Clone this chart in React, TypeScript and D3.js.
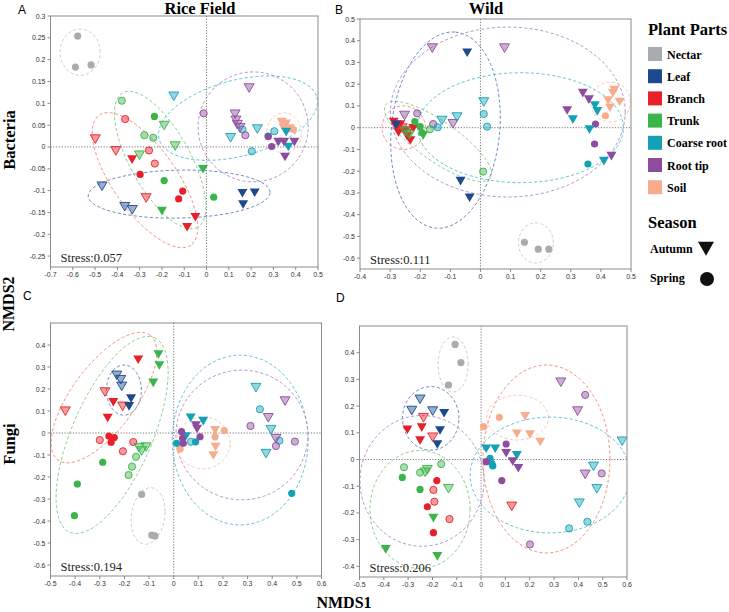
import React from "react";
import * as d3 from "d3";

// plant compartments, in legend order
const parts = ["Nectar", "Leaf", "Branch", "Trunk", "Coarse root", "Root tip", "Soil"];
const partColors = ["#a8acaf", "#1c4a8d", "#e8202a", "#3bb44a", "#14a1b6", "#8d4c9e", "#f7ac8e"];
const ringColors = ["#c4c6c8", "#5a7fc0", "#f08a78", "#7fcc85", "#55c0d3", "#b28ccb", "#f8c2ab"];
const seasons = ["Autumn", "Spring"];

// [part, season, NMDS1, NMDS2, pale]
type Pt = [number, string, number, number, number];
// [part, cx, cy, ux, uy, vx, vy] : centre and two conjugate semi-axes, in NMDS units
type Ring = [number, number, number, number, number, number, number];

const riceBacteria: Pt[] = [
  [0, "S", -0.578, 0.254, 0], [0, "S", -0.588, 0.183, 0], [0, "S", -0.518, 0.188, 0],
  [3, "S", -0.38, 0.106, 1], [3, "S", -0.234, 0.07, 0], [3, "A", -0.19, 0.05, 1],
  [3, "S", -0.279, 0.027, 1], [3, "S", -0.239, 0.021, 1], [3, "A", -0.141, 0.003, 1],
  [3, "A", -0.301, -0.018, 1], [3, "S", -0.19, -0.077, 0], [3, "A", -0.016, -0.05, 0],
  [3, "S", 0.032, -0.115, 0], [3, "A", -0.2, -0.146, 0],
  [2, "S", -0.365, 0.064, 1], [2, "A", -0.499, 0.019, 1], [2, "A", -0.407, -0.008, 1],
  [2, "S", -0.258, -0.008, 1], [2, "A", -0.334, -0.028, 0], [2, "S", -0.232, -0.038, 1],
  [2, "S", -0.298, -0.063, 0], [2, "A", -0.271, -0.116, 1], [2, "S", -0.107, -0.101, 0],
  [2, "S", -0.125, -0.119, 0], [2, "A", -0.05, -0.16, 0], [2, "A", -0.087, -0.183, 0],
  [1, "A", -0.469, -0.089, 1], [1, "A", -0.367, -0.136, 1], [1, "A", -0.333, -0.143, 1],
  [1, "A", 0.161, -0.105, 0], [1, "A", 0.164, -0.131, 0], [1, "A", 0.216, -0.104, 0],
  [4, "A", -0.147, 0.117, 1], [4, "S", 0.161, 0.04, 1], [4, "A", 0.108, 0.022, 1],
  [4, "A", 0.228, 0.042, 1], [4, "S", 0.203, -0.01, 1], [4, "S", 0.304, 0.036, 1],
  [5, "S", -0.013, 0.077, 1], [5, "A", 0.191, 0.136, 1], [5, "A", 0.128, 0.076, 1],
  [5, "A", 0.132, 0.062, 1], [5, "A", 0.138, 0.052, 1], [5, "A", 0.15, 0.045, 1],
  [5, "S", 0.174, 0.027, 1],
  [6, "A", 0.337, 0.058, 0], [6, "A", 0.357, 0.054, 0], [6, "A", 0.345, 0.045, 0],
  [6, "A", 0.374, 0.043, 0], [6, "S", 0.39, 0.04, 0],
  [4, "S", 0.276, 0.025, 0], [4, "A", 0.357, 0.035, 0], [4, "A", 0.367, 0.001, 0],
  [5, "S", 0.277, 0.024, 0], [5, "S", 0.292, 0.001, 0], [5, "A", 0.322, 0.012, 0],
  [5, "A", 0.348, 0.012, 0], [5, "A", 0.394, 0.012, 0], [5, "A", 0.352, -0.022, 0],
];

const wildBacteria: Pt[] = [
  [5, "A", -0.16, 0.368, 1], [5, "A", 0.08, 0.368, 1], [5, "A", -0.252, 0.058, 1],
  [5, "S", -0.21, 0.066, 1], [5, "A", -0.091, 0.02, 1], [5, "S", -0.157, 0.017, 1],
  [4, "A", -0.128, 0.035, 1], [4, "A", -0.078, 0.051, 1], [4, "S", -0.142, 0.002, 1],
  [4, "A", 0.011, 0.12, 1], [4, "S", 0.011, 0.063, 1], [4, "S", 0.022, 0.005, 1],
  [3, "S", -0.168, -0.007, 1], [3, "S", 0.009, -0.202, 1],
  [2, "A", -0.288, 0.028, 0], [2, "A", -0.266, 0.017, 0], [2, "A", -0.249, -0.011, 0],
  [2, "A", -0.243, -0.038, 0], [2, "A", -0.233, -0.057, 0], [2, "A", -0.272, -0.02, 0],
  [2, "A", -0.223, -0.001, 0], [2, "A", -0.279, 0.003, 0], [2, "A", -0.26, 0.0, 1],
  [2, "A", -0.245, -0.025, 1], [1, "A", -0.28, 0.015, 0],
  [3, "A", -0.25, -0.015, 1], [3, "A", -0.236, -0.03, 1],
  [3, "S", -0.218, 0.028, 0], [3, "S", -0.2, 0.005, 0], [3, "S", -0.194, -0.023, 0],
  [3, "A", -0.19, -0.034, 0],
  [1, "A", -0.044, 0.347, 0], [1, "A", -0.066, -0.244, 0], [1, "A", -0.036, -0.32, 0],
  [5, "A", 0.34, 0.161, 0], [5, "A", 0.36, 0.131, 0], [5, "A", 0.288, 0.081, 0],
  [5, "A", 0.435, -0.129, 0], [5, "S", 0.382, 0.017, 0], [5, "S", 0.379, -0.075, 0],
  [4, "A", 0.307, 0.039, 0], [4, "A", 0.38, 0.104, 0], [4, "A", 0.388, 0.077, 0],
  [4, "A", 0.362, -0.007, 0], [4, "A", 0.41, -0.152, 0], [4, "S", 0.357, -0.167, 0],
  [6, "A", 0.44, 0.161, 0], [6, "A", 0.424, 0.127, 0], [6, "A", 0.462, 0.12, 0],
  [6, "A", 0.43, 0.094, 0], [6, "A", 0.445, 0.175, 0], [6, "S", 0.415, 0.055, 0],
  [0, "S", 0.146, -0.527, 0], [0, "S", 0.192, -0.559, 0], [0, "S", 0.227, -0.559, 0],
];

const riceFungi: Pt[] = [
  [2, "A", -0.44, 0.101, 1], [2, "A", -0.279, 0.188, 1], [2, "A", -0.207, 0.123, 1],
  [2, "S", -0.3, -0.032, 1], [2, "S", -0.164, -0.041, 1], [2, "S", -0.206, -0.083, 1],
  [2, "A", -0.144, 0.335, 0], [2, "A", -0.245, 0.142, 0], [2, "A", -0.268, 0.07, 0],
  [2, "S", -0.263, -0.014, 0], [2, "S", -0.241, -0.021, 0], [2, "S", -0.254, -0.042, 0],
  [3, "A", -0.062, 0.359, 0], [3, "A", -0.058, 0.309, 0], [3, "A", -0.083, 0.23, 0],
  [3, "S", -0.288, -0.133, 0], [3, "A", -0.141, -0.065, 1], [3, "A", -0.112, -0.062, 1],
  [3, "A", -0.13, -0.08, 1], [3, "S", -0.153, -0.108, 1], [3, "S", -0.169, -0.153, 1],
  [3, "S", -0.183, -0.191, 1], [3, "S", -0.391, -0.232, 0], [3, "S", -0.403, -0.376, 0],
  [1, "A", -0.231, 0.264, 1], [1, "A", -0.215, 0.244, 1], [1, "A", -0.211, 0.214, 1],
  [1, "A", -0.173, 0.158, 0], [1, "A", -0.181, 0.123, 0],
  [0, "S", -0.13, -0.279, 0], [0, "S", -0.089, -0.464, 0], [0, "S", -0.076, -0.468, 0],
  [4, "A", 0.334, 0.208, 1], [4, "S", 0.35, 0.108, 1], [4, "A", 0.395, 0.017, 1],
  [4, "S", 0.429, -0.035, 1], [4, "A", 0.375, -0.092, 1], [4, "S", 0.07, -0.04, 1],
  [5, "S", 0.312, 0.032, 1], [5, "A", 0.452, 0.147, 1], [5, "A", 0.384, 0.071, 1],
  [5, "A", 0.415, -0.024, 1], [5, "S", 0.415, -0.059, 1], [5, "S", 0.492, -0.039, 1],
  [6, "A", 0.168, 0.014, 0], [6, "A", 0.17, -0.062, 0], [6, "A", 0.161, -0.1, 0],
  [6, "S", 0.168, -0.017, 0], [6, "S", 0.205, 0.011, 0], [6, "S", 0.026, -0.073, 0],
  [4, "A", 0.069, 0.071, 0], [4, "A", 0.12, 0.056, 0], [4, "A", 0.049, -0.014, 0],
  [4, "S", 0.012, -0.047, 0], [4, "S", 0.089, -0.04, 0], [4, "S", 0.479, -0.274, 0],
  [5, "A", 0.09, 0.036, 0], [5, "A", 0.095, 0.02, 0], [5, "S", 0.032, 0.006, 0],
  [5, "S", 0.036, -0.024, 0], [5, "S", 0.039, -0.047, 0], [5, "S", 0.107, -0.017, 0],
];

const wildFungi: Pt[] = [
  [0, "S", -0.107, 0.431, 0], [0, "S", -0.083, 0.363, 0], [0, "S", -0.134, 0.279, 0],
  [1, "A", -0.251, 0.227, 1], [1, "A", -0.285, 0.185, 1], [1, "A", -0.199, 0.183, 1],
  [1, "A", -0.152, 0.175, 0], [1, "A", -0.169, 0.11, 0], [1, "A", -0.18, 0.058, 0],
  [2, "A", -0.237, 0.158, 1], [2, "A", -0.199, 0.085, 1], [2, "A", -0.303, 0.113, 0],
  [2, "A", -0.244, 0.121, 0], [2, "A", -0.251, 0.073, 0],
  [3, "S", -0.317, -0.029, 1], [3, "S", -0.164, -0.017, 1], [3, "S", -0.251, -0.049, 1],
  [3, "A", -0.221, -0.037, 1], [3, "A", -0.23, -0.046, 1], [3, "A", -0.134, -0.108, 1],
  [3, "S", -0.324, -0.067, 0], [3, "S", -0.251, -0.112, 0], [3, "A", -0.196, -0.218, 0],
  [3, "A", -0.392, -0.335, 0], [3, "A", -0.18, -0.361, 0],
  [2, "S", -0.196, -0.114, 1], [2, "S", -0.192, -0.158, 1], [2, "S", -0.13, -0.223, 1],
  [2, "S", -0.182, -0.079, 0], [2, "S", -0.221, -0.177, 0], [2, "S", -0.196, -0.274, 0],
  [2, "A", 0.126, -0.174, 1],
  [5, "A", 0.328, 0.291, 1], [5, "S", 0.428, 0.242, 1], [5, "A", 0.397, 0.183, 1],
  [5, "A", 0.428, -0.054, 1], [5, "S", 0.496, -0.052, 1], [5, "S", 0.201, -0.318, 1],
  [4, "A", 0.462, -0.024, 1], [4, "A", 0.476, -0.108, 1], [4, "A", 0.404, -0.162, 1],
  [4, "S", 0.437, -0.233, 1], [4, "S", 0.362, -0.258, 1], [4, "A", 0.58, 0.07, 1],
  [6, "S", 0.075, 0.158, 0], [6, "S", 0.01, 0.123, 0], [6, "A", 0.181, 0.163, 0],
  [6, "A", 0.147, 0.098, 0], [6, "A", 0.201, 0.095, 0], [6, "A", 0.243, 0.067, 0],
  [4, "A", 0.021, 0.042, 0], [4, "A", 0.058, 0.042, 0], [4, "A", 0.147, 0.017, 0],
  [4, "S", 0.037, 0.004, 0], [4, "S", 0.044, -0.014, 0], [4, "S", 0.048, -0.024, 0],
  [5, "S", 0.103, 0.058, 0], [5, "S", 0.021, -0.008, 0], [5, "S", 0.085, -0.079, 0],
  [5, "A", 0.103, 0.025, 0], [5, "A", 0.13, -0.006, 0], [5, "A", 0.153, -0.031, 0],
];

const riceBacteriaRings: Ring[] = [
  [0, -0.567, 0.217, 0.09, 0, 0, 0.053],
  [2, -0.276, -0.076, 0.206, -0.149, -0.117, -0.042],
  [3, -0.208, -0.03, 0.168, -0.154, -0.118, -0.033],
  [1, -0.123, -0.108, 0.408, 0.004, 0, 0.055],
  [4, 0.141, 0.066, 0.354, 0.048, 0.0435, -0.084],
  [5, 0.209, 0.046, 0.247, 0, 0, 0.126],
  [6, 0.348, 0.032, 0.078, 0, 0, 0.046],
];

const wildBacteriaRings: Ring[] = [
  [2, -0.255, 0, 0.072, 0, 0, 0.1],
  [3, -0.141, -0.063, 0.174, -0.168, -0.038, -0.075],
  [1, -0.116, -0.011, 0.033, 0.451, 0.179, -0.023],
  [5, 0.091, 0.072, 0.39, 0, 0, 0.391],
  [4, 0.133, 0, 0.342, 0, 0, 0.253],
  [6, 0.432, 0.118, 0.066, 0, 0, 0.092],
  [0, 0.184, -0.53, 0.058, 0, 0, 0.092],
];

const riceFungiRings: Ring[] = [
  [2, -0.283, 0.161, 0.187, 0.284, 0.105, -0.086],
  [3, -0.25, -0.009, 0.172, 0.442, 0.149, -0.073],
  [1, -0.202, 0.195, 0.071, 0, 0, 0.114],
  [0, -0.104, -0.377, 0.069, 0.02, 0.0, 0.127],
  [4, 0.27, -0.032, 0.276, 0, 0, 0.386],
  [5, 0.277, -0.009, 0.268, 0, 0, 0.295],
  [6, 0.119, -0.045, 0.11, 0, 0, 0.118],
];

const wildFungiRings: Ring[] = [
  [0, -0.115, 0.356, 0.062, 0, 0, 0.103],
  [1, -0.207, 0.154, 0.116, 0, 0, 0.119],
  [3, -0.251, -0.187, 0.206, 0, 0, 0.221],
  [5, -0.243, -0.08, 0.255, 0, 0, 0.245],
  [6, 0.15, 0.157, 0.127, 0, 0, 0.084],
  [2, 0.269, 0.002, 0.261, 0, 0, 0.352],
  [4, 0.284, -0.058, 0.329, 0, 0, 0.217],
];

const xTicksA = [-0.7, -0.6, -0.5, -0.4, -0.3, -0.2, -0.1, 0, 0.1, 0.2, 0.3, 0.4, 0.5];
const yTicksA = [0.3, 0.25, 0.2, 0.15, 0.1, 0.05, 0, -0.05, -0.1, -0.15, -0.2, -0.25];
const xTicksB = [-0.4, -0.3, -0.2, -0.1, 0, 0.1, 0.2, 0.3, 0.4, 0.5];
const yTicksB = [0.5, 0.4, 0.3, 0.2, 0.1, 0, -0.1, -0.2, -0.3, -0.4, -0.5, -0.6];
const xTicksC = [-0.5, -0.4, -0.3, -0.2, -0.1, 0, 0.1, 0.2, 0.3, 0.4, 0.5, 0.6];
const yTicksC = [0.4, 0.3, 0.2, 0.1, 0, -0.1, -0.2, -0.3, -0.4, -0.5, -0.6];
const xTicksD = [-0.5, -0.4, -0.3, -0.2, -0.1, 0, 0.1, 0.2, 0.3, 0.4, 0.5, 0.6];
const yTicksD = [0.4, 0.3, 0.2, 0.1, 0, -0.1, -0.2, -0.3, -0.4];

const stressValues = ["0.057", "0.111", "0.194", "0.206"];

const panels = [
  { id: "A", pts: riceBacteria, rings: riceBacteriaRings, xd: [-0.7, 0.5], yd: [-0.275, 0.3], l: 50.5, r: 318, b: 267, t: 16, xt: xTicksA, yt: yTicksA, lx: 18, ly: 14 },
  { id: "B", pts: wildBacteria, rings: wildBacteriaRings, xd: [-0.4, 0.5], yd: [-0.65, 0.5], l: 360, r: 631, b: 269, t: 19, xt: xTicksB, yt: yTicksB, lx: 335, ly: 14 },
  { id: "C", pts: riceFungi, rings: riceFungiRings, xd: [-0.5, 0.6], yd: [-0.65, 0.5], l: 50.5, r: 321.5, b: 576, t: 323, xt: xTicksC, yt: yTicksC, lx: 23, ly: 300 },
  { id: "D", pts: wildFungi, rings: wildFungiRings, xd: [-0.5, 0.6], yd: [-0.44, 0.5], l: 359.5, r: 627, b: 577, t: 326, xt: xTicksD, yt: yTicksD, lx: 336, ly: 302 },
];

const serif = "'Liberation Serif', 'Times New Roman', serif";
const sans = "'Liberation Sans', Arial, sans-serif";
const fmt = (v: number) => String(+v.toFixed(2));

function tri(cx: number, cy: number, w: number, h: number) {
  return `M${cx - w / 2},${cy - h * 0.45}L${cx + w / 2},${cy - h * 0.45}L${cx},${cy + h * 0.55}Z`;
}

function Panel({ p, i }: { p: (typeof panels)[number]; i: number }) {
  const x = d3.scaleLinear().domain(p.xd).range([p.l, p.r]);
  const y = d3.scaleLinear().domain(p.yd).range([p.b, p.t]);
  const line = d3.line<[number, number]>().curve(d3.curveLinearClosed);
  const clipId = `clip-${p.id}`;
  return (
    <g>
      <defs>
        <clipPath id={clipId}>
          <rect x={p.l} y={p.t} width={p.r - p.l} height={p.b - p.t} />
        </clipPath>
      </defs>
      <text x={p.lx} y={p.ly} fontFamily={sans} fontSize={12}>{p.id}</text>
      <line x1={x(0)} x2={x(0)} y1={p.t} y2={p.b} stroke="#555" strokeWidth={0.8} strokeDasharray="1.2,1.6" />
      <line x1={p.l} x2={p.r} y1={y(0)} y2={y(0)} stroke="#555" strokeWidth={0.8} strokeDasharray="1.2,1.6" />
      <g clipPath={`url(#${clipId})`}>
        {p.rings.map((e, k) => {
          const pts = d3.range(0, 72).map((s) => {
            const a = (s / 72) * Math.PI * 2;
            return [
              x(e[1] + e[3] * Math.cos(a) + e[5] * Math.sin(a)),
              y(e[2] + e[4] * Math.cos(a) + e[6] * Math.sin(a)),
            ] as [number, number];
          });
          return (
            <path key={k} d={line(pts) || ""} fill="none" stroke={ringColors[e[0]]}
              strokeWidth={0.9} strokeDasharray="3.2,2.2" />
          );
        })}
      </g>
      {p.pts.map((d, k) => {
        const c = partColors[d[0]];
        const pale = d[4] === 1;
        const common = {
          fill: c,
          fillOpacity: pale ? 0.45 : 1,
          stroke: pale ? c : "none",
          strokeWidth: pale ? 0.9 : 0,
        };
        return d[1] === "A" ? (
          <path key={k} d={tri(x(d[2]), y(d[3]), 10, 8.6)} {...common} />
        ) : (
          <circle key={k} cx={x(d[2])} cy={y(d[3])} r={3.6} {...common} />
        );
      })}
      <rect x={p.l} y={p.t} width={p.r - p.l} height={p.b - p.t} fill="none" stroke="#8a8a8a" strokeWidth={1} />
      {p.yt.map((v) => (
        <g key={`y${v}`}>
          <line x1={p.l - 3} x2={p.l} y1={y(v)} y2={y(v)} stroke="#8a8a8a" />
          <text x={p.l - 5} y={y(v) + 2.5} textAnchor="end" fontFamily={sans} fontSize={7} fill="#333">{fmt(v)}</text>
        </g>
      ))}
      {p.xt.map((v) => (
        <g key={`x${v}`}>
          <line x1={x(v)} x2={x(v)} y1={p.b} y2={p.b + 3} stroke="#8a8a8a" />
          <text x={x(v)} y={p.b + 10} textAnchor="middle" fontFamily={sans} fontSize={7} fill="#333">{fmt(v)}</text>
        </g>
      ))}
      <text x={p.l + 10} y={p.b - 5} fontFamily={serif} fontSize={12.5} fill="#222">{`Stress:${stressValues[i]}`}</text>
    </g>
  );
}

export default function App() {
  return (
    <svg width={729} height={612} style={{ position: "absolute", left: 0, top: 0, background: "#fff" }}>
      <rect width={729} height={612} fill="#fff" />
      {panels.map((p, i) => <Panel key={p.id} p={p} i={i} />)}
      <text x={200} y={14} textAnchor="middle" fontFamily={serif} fontWeight="bold" fontSize={16.5}>Rice Field</text>
      <text x={486} y={14} textAnchor="middle" fontFamily={serif} fontWeight="bold" fontSize={16.5}>Wild</text>
      <text transform="translate(15,140) rotate(-90)" textAnchor="middle" fontFamily={serif} fontWeight="bold" fontSize={16.5}>Bacteria</text>
      <text transform="translate(14,304) rotate(-90)" textAnchor="middle" fontFamily={serif} fontWeight="bold" fontSize={16}>NMDS2</text>
      <text transform="translate(15,444) rotate(-90)" textAnchor="middle" fontFamily={serif} fontWeight="bold" fontSize={16.5}>Fungi</text>
      <text x={344} y={608} textAnchor="middle" fontFamily={serif} fontWeight="bold" fontSize={16}>NMDS1</text>

      <text x={648} y={35} fontFamily={serif} fontWeight="bold" fontSize={16.5}>Plant Parts</text>
      {parts.map((name, k) => (
        <g key={name}>
          <rect x={648} y={47 + k * 22.2} width={14} height={14} fill={partColors[k]} />
          <text x={667} y={58.5 + k * 22.2} fontFamily={serif} fontWeight="bold" fontSize={12}>{name}</text>
        </g>
      ))}
      <text x={648} y={228} fontFamily={serif} fontWeight="bold" fontSize={16.5}>Season</text>
      <text x={650} y={253} fontFamily={serif} fontWeight="bold" fontSize={12}>{seasons[0]}</text>
      <path d={tri(706, 248, 16, 14)} fill="#111" />
      <text x={650} y={282} fontFamily={serif} fontWeight="bold" fontSize={12}>{seasons[1]}</text>
      <circle cx={707} cy={279} r={7} fill="#111" />
    </svg>
  );
}
